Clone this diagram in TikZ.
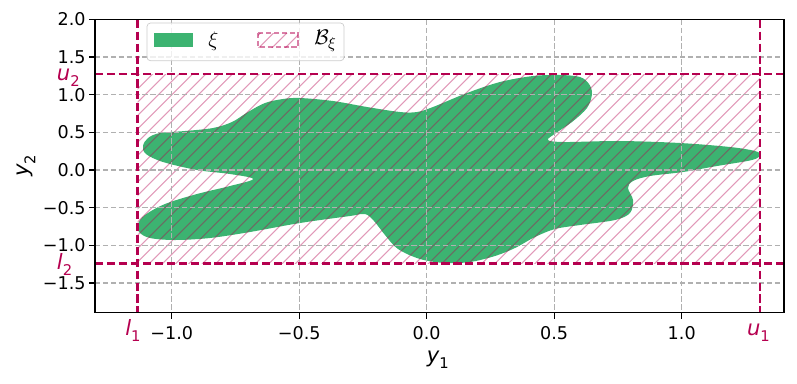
\documentclass[tikz,border=0pt]{standalone}
\usepackage{fontspec}
\setmainfont{DejaVu Sans}
\usepackage{tikz}
\usepackage{xcolor}
\definecolor{blobgreen}{HTML}{3CB371}
\definecolor{boundred}{HTML}{B5004F}
\definecolor{gridgray}{HTML}{B0B0B0}
\tikzset{
  gridline/.style={gridgray, line width=0.8pt, dash pattern=on 3pt off 1.5pt},
  boundline/.style={boundred, line width=1.5pt, dash pattern=on 4.6pt off 2.2pt},
  hatchline/.style={boundred, opacity=0.4, line width=0.6pt},
  ticklab/.style={font=\fontsize{10}{12}\selectfont, inner sep=0pt},
  boundlab/.style={boundred, font=\fontsize{12}{14}\selectfont\itshape, inner sep=0pt},
  axlab/.style={font=\fontsize{12}{14}\selectfont\itshape, inner sep=0pt},
}
\newcommand{\sbx}[1]{\raisebox{-0.3em}{\fontsize{8.4}{9}\selectfont\upshape #1}}

\begin{document}
\begin{tikzpicture}[x=0.02cm, y=-0.02cm]
  \useasboundingbox (0,0) rectangle (797,383);
  % axes and box corners
  \coordinate (axnw) at (95,19.7);
  \coordinate (axse) at (784,312.7);
  \coordinate (bnw) at (137.7,74);
  \coordinate (bse) at (760,263.3);

  % the set xi
  \fill[blobgreen] plot[smooth cycle, tension=0.55] coordinates {
    (143,146) (148,138) (160,133) (185,131) (213,128) (232,122) (248,112)
    (265,103) (283,99) (300,98) (333,101) (367,107) (400,112) (417,112)
    (433,107) (467,93) (500,82) (533,76) (560,75) (580,77) (589,84)
    (592,94) (587,108) (572,122) (556,133) (548,140) (565,142) (620,141)
    (680,143) (730,147) (755,151) (760,155) (752,160) (717,166) (683,172)
    (650,176) (633,181) (628,188) (633,200) (630,213) (615,220) (580,225)
    (555,229) (535,237) (515,248) (495,256) (470,262) (445,263) (420,259)
    (398,249) (385,235) (374,221) (365,214) (350,216) (300,223) (250,232)
    (210,238) (175,240) (150,238) (139,232) (138,224) (145,215) (165,204)
    (197,194) (230,186) (253,179) (230,174) (197,170) (163,162) (146,154)};

  % hatched box B_xi
  \begin{scope}
    \clip (bnw) rectangle (bse);
    \foreach \c in {200,213.3,...,1040}
      \draw[hatchline] (\c,0) -- ({\c-400},400);
  \end{scope}

  % grid
  \foreach \v in {-1.0,-0.5,0.0,0.5,1.0}
    \draw[gridline] ({426.7+255*\v},19.7) -- ({426.7+255*\v},312.7);
  \foreach \v in {-1.5,-1.0,-0.5,0.0,0.5,1.0,1.5}
    \draw[gridline] (95,{170-75.3*\v}) -- (784,{170-75.3*\v});

  % bounds l_1, u_1, l_2, u_2
  \draw[boundline] (bnw |- axnw) -- (bnw |- axse);
  \draw[boundline] (bse |- axnw) -- (bse |- axse);
  \draw[boundline] (axnw |- bnw) -- (axse |- bnw);
  \draw[boundline] (axnw |- bse) -- (axse |- bse);

  % frame and ticks
  \draw[line width=0.8pt] (axnw) rectangle (axse);
  \foreach \v/\t [count=\i] in {-1.0/−1.0,-0.5/−0.5,0.0/0.0,0.5/0.5,1.0/1.0} {
    \draw[line width=0.8pt] ({426.7+255*\v},312.7) -- ++(0,6);
    \node[ticklab, anchor=base] (xt\i) at ({426.7+255*\v},339) {\t};
  }
  \foreach \v/\t [count=\i] in {-1.5/−1.5,-1.0/−1.0,-0.5/−0.5,0.0/0.0,0.5/0.5,1.0/1.0,1.5/1.5,2.0/2.0} {
    \draw[line width=0.8pt] (95,{170-75.3*\v}) -- ++(-6,0);
    \node[ticklab, anchor=east] (yt\i) at (86,{170-75.3*\v}) {\t};
  }
  \node[boundlab, anchor=base] (l1lab) at (133,335) {l\sbx{1}};
  \node[boundlab, anchor=base] (u1lab) at (758.5,335.5) {u\sbx{1}};
  \node[boundlab, anchor=base east] (u2lab) at (80,80.5) {u\sbx{2}};
  \node[boundlab, anchor=base east] (l2lab) at (72.5,269) {l\sbx{2}};

  % axis labels
  \node[axlab, anchor=base] (xlab) at (437.7,362) {y\sbx{1}};
  \node[axlab, anchor=base, rotate=90] (ylab) at (29,166) {y\sbx{2}};

  % legend
  \draw[rounded corners=2pt, draw=black!20, fill=white, fill opacity=0.8] (147,23) rectangle (344,60.7);
  \fill[blobgreen] (154,33) rectangle (193,47);
  \node[inner sep=0pt, anchor=west, font=\fontsize{12.5}{14}\selectfont] (legxi) at (208,41) {$\xi$};
  \begin{scope}
    \clip (258,33) rectangle (298,47);
    \foreach \c in {280,293.3,...,360}
      \draw[hatchline] (\c,0) -- ({\c-100},100);
  \end{scope}
  \draw[boundred, opacity=0.5, line width=1pt, dash pattern=on 3pt off 1.5pt] (258,33) rectangle (298,47);
  \node[inner sep=0pt, anchor=west, font=\fontsize{12.5}{14}\selectfont] (legb) at (314,41) {$\mathcal{B}_\xi$};
\end{tikzpicture}
\end{document}
